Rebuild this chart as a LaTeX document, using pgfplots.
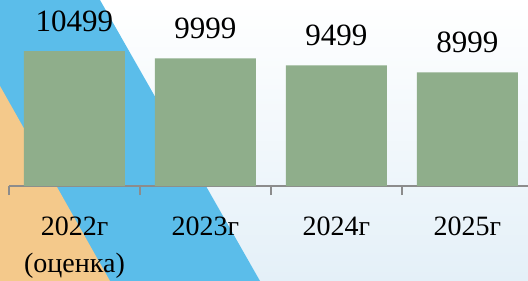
\documentclass[border=0pt]{standalone}
\usepackage{fontspec}
\setmainfont{Liberation Serif}
\usepackage{pgfplots}
\pgfplotsset{compat=1.18}
\definecolor{barg}{HTML}{8FAE8B}
\definecolor{skyb}{HTML}{5BBDEA}
\definecolor{orng}{HTML}{F4C98B}
\definecolor{bgblue}{HTML}{E4F0F8}
\definecolor{axgray}{HTML}{8C8C8C}
\begin{document}
\begin{tikzpicture}
\useasboundingbox (0,-95pt) rectangle (528pt,186pt);
\clip (0,-95pt) rectangle (528pt,186pt);
\shade[top color=white, bottom color=bgblue] (0,-95pt) rectangle (528pt,186pt);
\fill[skyb] (0,186pt) -- (100pt,186pt) -- (260pt,-95pt) -- (0,-95pt) -- cycle;
\fill[orng] (0,100pt) -- (110pt,-95pt) -- (0,-95pt) -- cycle;
\begin{axis}[
  at={(9pt,0pt)}, anchor=south west,
  scale only axis, width=519pt, height=186pt,
  xmin=-0.5, xmax=3.462, ymin=1000, ymax=14108,
  ybar, bar width=101pt, bar shift=0pt,
  axis x line*=bottom, hide y axis,
  x axis line style={-, draw=axgray, line width=1.3pt},
  xtick={0,1,2,3}, xticklabels={{2022г\\(оценка)},2023г,2024г,2025г},
  major x tick style={draw=none}, major tick length=0pt,
  minor xtick={-0.5,0.5,1.5,2.5},
  minor tick length=9pt, tick align=outside,
  minor x tick style={draw=axgray, line width=1.3pt},
  xticklabel style={anchor=north, inner sep=0pt, yshift=-31pt, align=center, font=\fontsize{28}{37}\selectfont},
  nodes near coords={\pgfmathprintnumber[1000 sep={}, assume math mode=true]{\pgfplotspointmeta}},
  every node near coord/.append style={anchor=base, yshift=20pt, inner sep=0pt, font=\fontsize{31}{31}\selectfont, text=black},
]
\addplot[fill=barg, draw=none] coordinates {(0,10499) (1,9999) (2,9499) (3,8999)};
\end{axis}
\end{tikzpicture}
\end{document}
